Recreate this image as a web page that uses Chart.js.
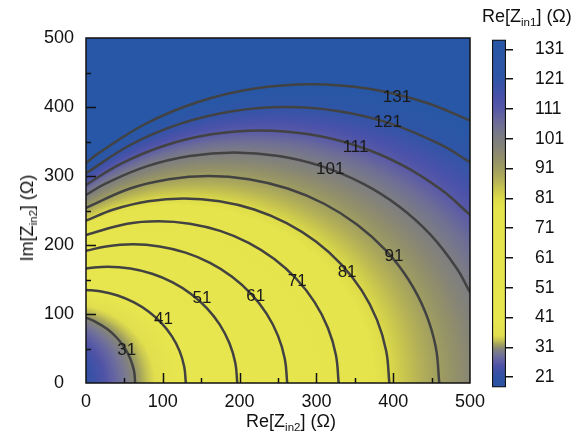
<!DOCTYPE html>
<html><head><meta charset="utf-8">
<script src="https://cdn.jsdelivr.net/npm/chart.js@4.4.1/dist/chart.umd.min.js"></script>
<style>
html,body{margin:0;padding:0;background:#fff;}
#wrap{position:relative;width:578px;height:439px;overflow:hidden;font-family:"Liberation Sans",Arial,sans-serif;color:#111;}
canvas{position:absolute;top:0;}
#main{left:0;}
#cbar{left:480px;}
.ttl{position:absolute;font-size:18px;white-space:nowrap;line-height:20px;}
.ttl sub{font-size:11.5px;vertical-align:-4px;line-height:0;}
#xt{left:291px;top:421px;transform:translate(-50%,-50%);}
#yt{left:27px;top:218px;transform:translate(-50%,-50%) rotate(-90deg);}
#ct{left:482px;top:16px;transform:translate(0,-50%);}
</style></head>
<body><div id="wrap">
<canvas id="main" width="578" height="439"></canvas>
<canvas id="cbar" width="98" height="439"></canvas>
<div class="ttl" id="xt">Re[Z<sub>in2</sub>] (Ω)</div>
<div class="ttl" id="yt">Im[Z<sub>in2</sub>] (Ω)</div>
<div class="ttl" id="ct">Re[Z<sub>in1</sub>] (Ω)</div>
</div>
<script>
// ---- data ----
const contourLevels = [31, 41, 51, 61, 71, 81, 91, 101, 111, 121, 131];
const contour31 = [[0,94.7],[13,88.3],[27.6,78.1],[40.1,65.6],[50.3,51],[57.8,34.9],[62.5,17.7],[64,0]];
const contour41 = [[0,134.9],[18.4,132.9],[41.2,126.9],[62.5,116.9],[81.8,103.4],[98.4,86.8],[111.9,67.5],[121.9,46.2],[127.9,23.4],[130,0]];
const contour51 = [[0,166.1],[28.5,168.5],[57.8,165.9],[86.1,158.3],[112.8,145.9],[136.8,129.1],[157.6,108.3],[174.4,84.3],[186.8,57.6],[194.4,29.3],[197,0]];
const contour61 = [[0,191.5],[26.1,197.9],[61,201],[95.9,197.9],[129.7,188.9],[161.5,174.1],[190.2,154],[215,129.2],[235.1,100.5],[249.9,68.7],[258.9,34.9],[262,0]];
const contour71 = [[0,214.6],[53.8,230.9],[94.5,234.5],[135.2,230.9],[174.7,220.4],[211.8,203.1],[245.2,179.6],[274.1,150.7],[297.6,117.3],[314.9,80.2],[325.4,40.7],[329,0]];
const contour81 = [[0,235.2],[36,251.4],[81.1,263.4],[127.5,267.5],[173.9,263.4],[219,251.4],[261.3,231.7],[299.4,204.9],[332.4,171.9],[359.2,133.8],[378.9,91.5],[390.9,46.4],[395,0]];
const contour91 = [[0,253.8],[57.4,281.9],[107.9,295.4],[160,300],[212.1,295.4],[262.6,281.9],[310,259.8],[352.8,229.8],[389.8,192.8],[419.8,150],[441.9,102.6],[455.4,52.1],[460,0]];
const contour101 = [[0,272.6],[26,289.2],[78.8,313.9],[135,328.9],[193,334],[251,328.9],[307.2,313.9],[360,289.2],[407.7,255.8],[448.8,214.7],[482.2,167],[500,131.6]];
const contour111 = [[0,287.1],[44,317],[101.8,343.9],[163.5,360.4],[227,366],[290.5,360.4],[352.2,343.9],[410,317],[462.3,280.4],[500,243.8]];
const contour121 = [[0,304],[60,346.4],[123.2,375.9],[190.6,393.9],[260,400],[329.4,393.9],[396.8,375.9],[460,346.4],[500,320]];
const contour131 = [[0,318.8],[14.7,331.7],[76.5,375],[144.9,406.9],[217.8,426.4],[293,433],[368.2,426.4],[441.1,406.9],[500,380.3]];
const labelX = [53, 101, 151, 221, 275, 340, 401, 318, 351, 393, 405];
const labelY = [48, 93, 123, 126, 148, 161, 183, 309, 341, 378, 414];
const axisTicks = [0, 100, 200, 300, 400, 500];
const colorbarTicks = [21, 31, 41, 51, 61, 71, 81, 91, 101, 111, 121, 131];
const colorbarRange = [17.5, 134.3];
// colour map of the scale (level, colour)
const colorMap = [
  [17,'#2b53a3'],[21,'#2f52a3'],[23,'#3d51a6'],[25,'#5053a6'],[27,'#6565a2'],[29,'#787892'],
  [30.5,'#858579'],[32,'#a3a25e'],[33.5,'#c8c652'],[35,'#e2df4e'],[40,'#e8e64e'],[78,'#e6e44c'],
  [81,'#dcda48'],[84,'#c9c64e'],[87,'#b5b257'],[90,'#a4a25e'],[94,'#939168'],[98,'#858477'],
  [102,'#7b7b86'],[106,'#6e6e96'],[110,'#5c5ca6'],[114,'#4b52a9'],[118,'#3b53a8'],[122,'#2e55a6'],[134,'#2757a6']
];

const FONT = "'Liberation Sans', Arial, sans-serif";
Chart.defaults.font.family = FONT;
Chart.defaults.color = '#111';

const contours = [contour31, contour41, contour51, contour61, contour71, contour81, contour91, contour101, contour111, contour121, contour131];
const toXY = pts => pts.map(([x, y]) => ({x, y}));
const datasets = contours.map((pts, i) => ({
  label: String(contourLevels[i]),
  data: toXY(pts),
  borderColor: '#424242', borderWidth: 2.5, pointRadius: 0, tension: 0.4, fill: false
}));
const outer = contours[contours.length - 1];
datasets.push({label: 'fieldBelow', data: toXY(outer), borderColor: 'rgba(0,0,0,0)', borderWidth: 0, pointRadius: 0, tension: 0.4, fill: 'origin', backgroundColor: '#e8e64e'});
datasets.push({label: 'fieldAbove', data: toXY(outer), borderColor: 'rgba(0,0,0,0)', borderWidth: 0, pointRadius: 0, tension: 0.4, fill: 'end', backgroundColor: '#2757a6'});

const decor = {
  id: 'decor',
  afterDatasetsDraw(chart) {
    const {ctx, chartArea: a, scales: {x, y}} = chart;
    ctx.save();
    ctx.font = '17px ' + FONT; ctx.fillStyle = '#1a1a1a';
    ctx.textAlign = 'center'; ctx.textBaseline = 'middle';
    contourLevels.forEach((lv, i) => ctx.fillText(String(lv), x.getPixelForValue(labelX[i]), y.getPixelForValue(labelY[i])));
    ctx.strokeStyle = '#111'; ctx.lineWidth = 1.5;
    ctx.strokeRect(a.left, a.top, a.right - a.left, a.bottom - a.top);
    ctx.beginPath();
    for (let v = 50; v < 500; v += 50) {
      const len = (v % 100 === 0) ? 10 : 5;
      const px = Math.round(x.getPixelForValue(v)) + 0.5;
      ctx.moveTo(px, a.bottom); ctx.lineTo(px, a.bottom - len);
      const py = Math.round(y.getPixelForValue(v)) + 0.5;
      ctx.moveTo(a.left, py); ctx.lineTo(a.left + len, py);
    }
    ctx.stroke();
    ctx.restore();
  }
};

const mainChart = new Chart(document.getElementById('main'), {
  type: 'line',
  data: {datasets},
  options: {
    responsive: false, animation: false, events: [],
    layout: {padding: {top: 38, right: 108, bottom: 0, left: 0}},
    plugins: {legend: {display: false}, tooltip: {enabled: false}, filler: {drawTime: 'beforeDatasetsDraw'}},
    scales: {
      x: {type: 'linear', min: 0, max: 500,
          afterBuildTicks(ax) { ax.ticks = axisTicks.map(v => ({value: v})); },
          ticks: {font: {size: 18}, padding: 8, maxRotation: 0, color: '#111'},
          grid: {display: false, drawTicks: false}, border: {display: false},
          afterFit(ax) { ax.height = 56; }},
      y: {type: 'linear', min: 0, max: 500,
          afterBuildTicks(ax) { ax.ticks = axisTicks.map(v => ({value: v})); },
          ticks: {font: {size: 18}, padding: 12, crossAlign: 'center', color: '#111'},
          grid: {display: false, drawTicks: false}, border: {display: false},
          afterFit(ax) { ax.width = 86; }}
    }
  },
  plugins: [decor]
});

// colour field of the filled areas: a gradient style built from the contour circles
function fitCircle(pts) {
  const [x1, y1] = pts[0], [x2, y2] = pts[Math.floor(pts.length / 2)], [x3, y3] = pts[pts.length - 1];
  const d = 2 * (x1 * (y2 - y3) + x2 * (y3 - y1) + x3 * (y1 - y2));
  const s1 = x1 * x1 + y1 * y1, s2 = x2 * x2 + y2 * y2, s3 = x3 * x3 + y3 * y3;
  const ux = (s1 * (y2 - y3) + s2 * (y3 - y1) + s3 * (y1 - y2)) / d;
  const uy = (s1 * (x3 - x2) + s2 * (x1 - x3) + s3 * (x2 - x1)) / d;
  return {x: ux, y: uy, r: Math.hypot(x1 - ux, y1 - uy)};
}
(function applyField() {
  const circles = contours.map(fitCircle);
  const oc = circles[circles.length - 1];
  const pole = oc.x - oc.r, R = oc.r;
  const omegas = circles.map(c => (c.x + c.r - pole) / (2 * R));
  const n = contourLevels.length;
  function omegaOf(L) {
    let i = 0;
    if (L >= contourLevels[n - 1]) i = n - 2;
    else if (L > contourLevels[0]) { while (L > contourLevels[i + 1]) i++; }
    const t = (L - contourLevels[i]) / (contourLevels[i + 1] - contourLevels[i]);
    return omegas[i] + t * (omegas[i + 1] - omegas[i]);
  }
  const xs = mainChart.scales.x, ys = mainChart.scales.y;
  const sx = (xs.getPixelForValue(100) - xs.getPixelForValue(0)) / 100;
  const sy = (ys.getPixelForValue(0) - ys.getPixelForValue(100)) / 100;
  const py0 = ys.getPixelForValue(0);
  const off = document.createElement('canvas');
  off.width = mainChart.width; off.height = mainChart.height;
  const o = off.getContext('2d');
  o.setTransform(1, 0, 0, sy / sx, 0, py0 * (1 - sy / sx));
  const g = o.createRadialGradient(xs.getPixelForValue(pole), py0, 0, xs.getPixelForValue(oc.x), py0, R * sx);
  colorMap.forEach(([L, c]) => g.addColorStop(Math.min(1, Math.max(0, omegaOf(L))), c));
  o.fillStyle = g;
  o.fillRect(-10, -5000, off.width + 20, 10000);
  const pat = mainChart.ctx.createPattern(off, 'no-repeat');
  const ds = mainChart.data.datasets;
  ds[ds.length - 2].backgroundColor = pat;
  ds[ds.length - 1].backgroundColor = pat;
  mainChart.update('none');
})();

// colour bar
let barGrad = null;
function barFill(context) {
  const chart = context.chart;
  const ys = chart.scales && chart.scales.y;
  if (!chart.chartArea || !ys) return '#e8e64e';
  if (!barGrad) {
    const y0 = ys.getPixelForValue(colorbarRange[0]), y1 = ys.getPixelForValue(colorbarRange[1]);
    if (!isFinite(y0) || !isFinite(y1) || y0 === y1) return '#e8e64e';
    barGrad = chart.ctx.createLinearGradient(0, y0, 0, y1);
    colorMap.forEach(([L, c]) => barGrad.addColorStop(Math.min(1, Math.max(0, (L - colorbarRange[0]) / (colorbarRange[1] - colorbarRange[0]))), c));
  }
  return barGrad;
}
const cbChart = new Chart(document.getElementById('cbar'), {
  type: 'bar',
  data: {labels: [''], datasets: [{data: [colorbarRange], backgroundColor: barFill, borderColor: '#111', borderWidth: 1.5, borderSkipped: false, categoryPercentage: 1, barPercentage: 1}]},
  options: {
    responsive: false, animation: false, events: [],
    layout: {padding: {left: 12, right: 8, top: 39.5, bottom: 51.5}},
    plugins: {legend: {display: false}, tooltip: {enabled: false}},
    scales: {
      x: {display: false},
      y: {position: 'right', min: colorbarRange[0], max: colorbarRange[1],
          afterBuildTicks(ax) { ax.ticks = colorbarTicks.map(v => ({value: v})); },
          afterFit(ax) { ax.width = 64; },
          ticks: {font: {size: 17.5}, padding: 22, color: '#111'},
          grid: {drawOnChartArea: false, drawTicks: true, tickLength: 7, color: '#111', lineWidth: 1.5},
          border: {display: false}}
    }
  }
});
barGrad = null;
cbChart.update();
</script>
</body></html>
